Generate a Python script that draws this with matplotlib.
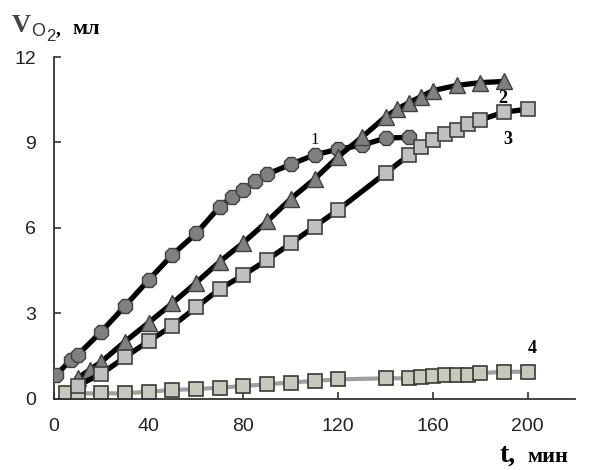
import matplotlib
matplotlib.use("Agg")
import matplotlib.pyplot as plt

# Series 1 (circles)
x1 = [1, 7, 10, 20, 30, 40, 50, 60, 70, 75, 80, 85, 90, 100, 110, 120, 130, 140, 150]
y1 = [0.83, 1.35, 1.53, 2.35, 3.25, 4.17, 5.05, 5.8, 6.74, 7.07, 7.33, 7.65, 7.88, 8.23, 8.56, 8.76, 8.9, 9.15, 9.18]

# Series 2 (triangles)
x2 = [10, 15, 20, 30, 40, 50, 60, 70, 80, 90, 100, 110, 120, 130, 140, 145, 150, 155, 160, 170, 180, 190]
y2 = [0.72, 1.0, 1.29, 2.0, 2.67, 3.35, 4.07, 4.81, 5.48, 6.22, 7.02, 7.71, 8.5, 9.18, 9.9, 10.17, 10.4, 10.61, 10.82, 11.0, 11.1, 11.14]

# Series 3 (squares)
x3 = [10, 20, 30, 40, 50, 60, 70, 80, 90, 100, 110, 120, 140, 150, 155, 160, 165, 170, 175, 180, 190, 200]
y3 = [0.45, 0.87, 1.45, 2.02, 2.55, 3.2, 3.85, 4.34, 4.87, 5.45, 6.04, 6.63, 7.92, 8.56, 8.83, 9.09, 9.3, 9.44, 9.65, 9.79, 10.06, 10.17]

# Series 4 (squares, light)
x4 = [5, 10, 20, 30, 40, 50, 60, 70, 80, 90, 100, 110, 120, 140, 150, 155, 160, 165, 170, 175, 180, 190, 200]
y4 = [0.18, 0.18, 0.18, 0.18, 0.24, 0.3, 0.33, 0.38, 0.44, 0.5, 0.56, 0.62, 0.67, 0.71, 0.71, 0.77, 0.79, 0.83, 0.83, 0.83, 0.89, 0.94, 0.94]

xticks = [0, 40, 80, 120, 160, 200]
yticks = [0, 3, 6, 9, 12]

W, H = 589, 470
fig = plt.figure(figsize=(W / 100, H / 100), dpi=100)
ax = fig.add_axes([54 / W, 71.5 / H, 521 / W, 341.5 / H])

ax.plot(x4, y4, color="#a0a0a0", lw=3, marker="s", ms=10, mfc="#c8c8be",
        mec="#3a3a30", mew=1.2, zorder=2)
ax.plot(x1, y1, color="black", lw=3.8, marker="8", ms=11, mfc="#808080",
        mec="#404040", mew=1.0, zorder=3)
ax.plot(x2, y2, color="black", lw=3.8, marker="^", ms=11.5, mfc="#808080",
        mec="#404040", mew=1.0, zorder=4)
ax.plot(x3, y3, color="black", lw=3.8, marker="s", ms=10, mfc="#c0c0c0",
        mec="#404040", mew=1.2, zorder=5)

ax.set_xlim(0, 220)
ax.set_ylim(0, 12)
ax.set_xticks(xticks)
ax.set_yticks(yticks)
ax.spines["top"].set_visible(False)
ax.spines["right"].set_visible(False)
for s in ("left", "bottom"):
    ax.spines[s].set_linewidth(1.3)
    ax.spines[s].set_color("#333333")
ax.tick_params(axis="both", direction="in", length=5, width=1.2, colors="#333333",
               labelcolor="#222222", labelsize=14)
ax.tick_params(axis="x", pad=14)
ax.tick_params(axis="y", pad=13)
for lab in ax.get_xticklabels() + ax.get_yticklabels():
    lab.set_family("Liberation Sans")

serif = "Liberation Serif"
ax.text(110, 9.1, "1", fontsize=12, family=serif, ha="center", va="center")
ax.text(189.5, 10.55, "2", fontsize=13, family=serif, fontweight="bold", ha="center", va="center")
ax.text(191.5, 9.1, "3", fontsize=13, family=serif, fontweight="bold", ha="center", va="center")
ax.text(202, 1.75, "4", fontsize=13, family=serif, fontweight="bold", ha="center", va="center")

# y-axis label: V with subscript O2, then ", мл"
fig.text(12 / W, 1 - 32 / H, "V", fontsize=19, family=serif, fontweight="bold",
         color="#444444", ha="left", va="baseline")
fig.text(31 / W, 1 - 36 / H, "O", fontsize=13, family="Liberation Sans",
         color="#333333", ha="left", va="baseline")
fig.text(46 / W, 1 - 41 / H, "2", fontsize=12, family="Liberation Sans",
         color="#333333", ha="left", va="baseline")
fig.text(56 / W, 1 - 34 / H, ",", fontsize=14, family=serif, fontweight="bold",
         ha="left", va="baseline")
fig.text(72 / W, 1 - 34 / H, "мл", fontsize=16, family=serif, fontweight="bold",
         ha="left", va="baseline")

# x-axis label
fig.text(500 / W, 1 - 462 / H, "t,", fontsize=20, family=serif, fontweight="bold",
         ha="left", va="baseline")
fig.text(527 / W, 1 - 462 / H, "мин", fontsize=16, family=serif, fontweight="bold",
         ha="left", va="baseline")

fig.savefig("out.png", dpi=100)
